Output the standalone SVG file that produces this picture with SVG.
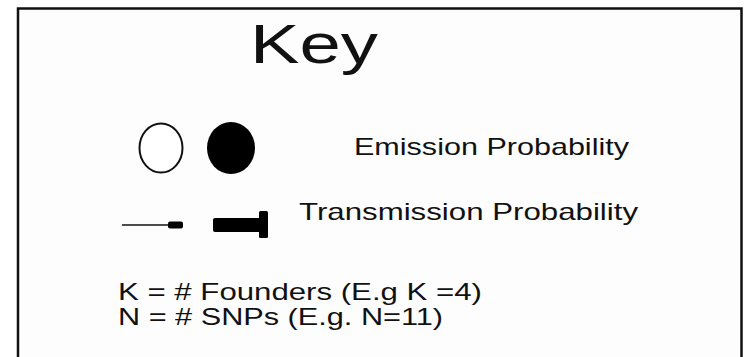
<svg xmlns="http://www.w3.org/2000/svg" width="744" height="357" viewBox="0 0 744 357">
  <style>
    .frame { fill: #fdfdfd; stroke: #111; stroke-width: 2.5; }
    .lbl { font-family: "Liberation Sans", Arial, sans-serif; fill: #111; }
    .title { font-size: 56px; }
    .item { font-size: 24px; }
    .def { font-size: 24px; }
  </style>
  <rect width="744" height="357" fill="#ffffff"/>
  <!-- key frame (runs off the bottom edge) -->
  <rect class="frame" x="18" y="8.5" width="723.5" height="360"/>

  <g id="title">
    <text class="lbl title" x="250" y="63" textLength="128" lengthAdjust="spacingAndGlyphs">Key</text>
  </g>

  <g id="emission">
    <ellipse cx="161" cy="148" rx="21.5" ry="24.5" fill="#fff" stroke="#111" stroke-width="2"/>
    <ellipse cx="231" cy="148" rx="24" ry="26" fill="#000"/>
    <text class="lbl item" x="354" y="155" textLength="275" lengthAdjust="spacingAndGlyphs">Emission Probability</text>
  </g>

  <g id="transmission">
    <!-- thin transition arrow -->
    <line x1="122" y1="225" x2="178" y2="225" stroke="#111" stroke-width="1.6"/>
    <rect x="168" y="221.5" width="15" height="7" rx="2" fill="#000"/>
    <!-- thick transition arrow -->
    <rect x="213" y="218" width="52" height="14" rx="2" fill="#000"/>
    <rect x="259" y="211" width="9" height="27" rx="1.5" fill="#000"/>
    <text class="lbl item" x="299" y="220" textLength="339" lengthAdjust="spacingAndGlyphs">Transmission Probability</text>
  </g>

  <g id="definitions">
    <text class="lbl def" x="118" y="300" textLength="364" lengthAdjust="spacingAndGlyphs">K = # Founders (E.g K =4)</text>
    <text class="lbl def" x="118" y="325" textLength="325" lengthAdjust="spacingAndGlyphs">N = # SNPs (E.g. N=11)</text>
  </g>
</svg>
